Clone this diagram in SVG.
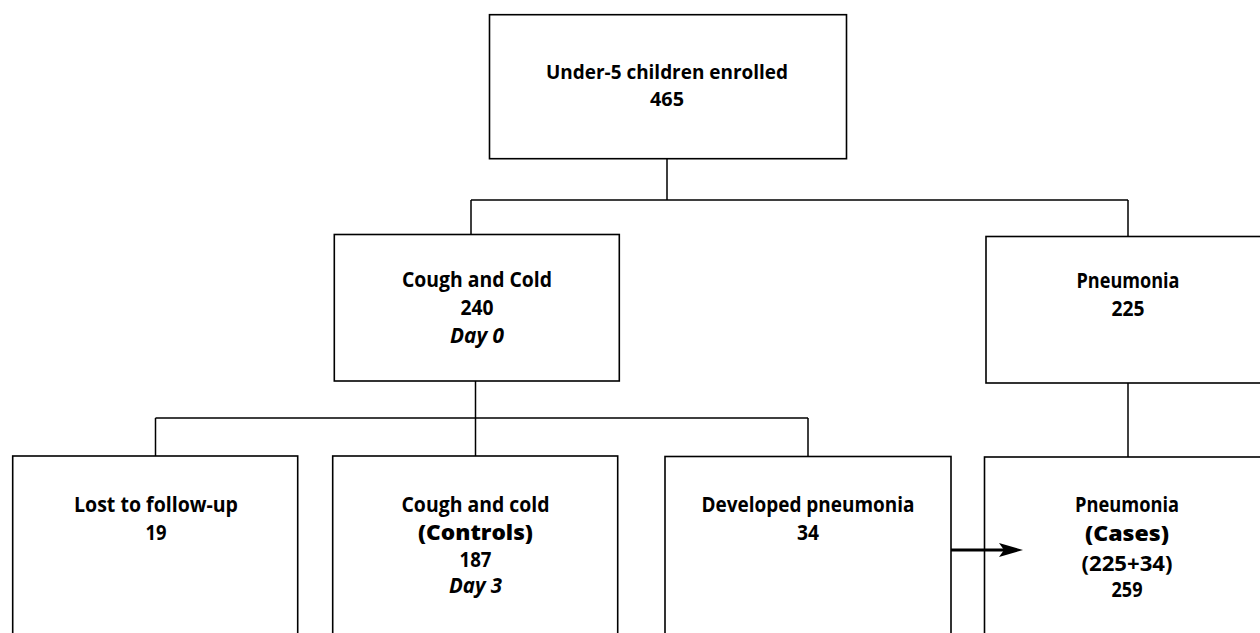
<svg xmlns="http://www.w3.org/2000/svg" width="1260" height="633" viewBox="0 0 1260 633">
<style>
.box{fill:#fff;stroke:#000;stroke-width:1.6}
.ln{fill:none;stroke:#000;stroke-width:1.5}
.arr{fill:none;stroke:#000;stroke-width:3}
.t{font-family:"Open Sans","Noto Sans","Liberation Sans",sans-serif;font-size:21px;font-weight:700;text-anchor:middle;fill:#000}
.sm{font-size:20px}
.it{font-style:italic}
.hv{font-weight:800}
</style>
<defs>
<marker id="ah" markerUnits="userSpaceOnUse" markerWidth="24" markerHeight="14" viewBox="0 0 24 14" refX="6" refY="7" orient="auto">
<path d="M0,0 L24,7 L0,14 L5,7 Z" fill="#000"/>
</marker>
</defs>
<rect width="1260" height="633" fill="#fff"/>
<g id="n-enrolled">
<rect class="box" x="489.5" y="14.7" width="357" height="144"/>
<text class="t sm" x="667" y="79" textLength="242" lengthAdjust="spacingAndGlyphs">Under-5 children enrolled</text>
<text class="t sm" x="667" y="106" textLength="34" lengthAdjust="spacingAndGlyphs">465</text>
</g>
<g id="n-coughcold">
<rect class="box" x="334.3" y="234.5" width="285" height="146.5"/>
<text class="t" x="477" y="287" textLength="150" lengthAdjust="spacingAndGlyphs">Cough and Cold</text>
<text class="t" x="477" y="315" textLength="33" lengthAdjust="spacingAndGlyphs">240</text>
<text class="t it" x="477" y="343" textLength="54" lengthAdjust="spacingAndGlyphs">Day 0</text>
</g>
<g id="n-pneumonia">
<rect class="box" x="986" y="236.5" width="290" height="146.5"/>
<text class="t" x="1128" y="288" textLength="103" lengthAdjust="spacingAndGlyphs">Pneumonia</text>
<text class="t" x="1128" y="316" textLength="33" lengthAdjust="spacingAndGlyphs">225</text>
</g>
<g id="n-lost">
<rect class="box" x="12.7" y="456" width="285" height="190"/>
<text class="t" x="156" y="512" textLength="164" lengthAdjust="spacingAndGlyphs">Lost to follow-up</text>
<text class="t" x="156" y="540" textLength="21" lengthAdjust="spacingAndGlyphs">19</text>
</g>
<g id="n-controls">
<rect class="box" x="332.7" y="456" width="285" height="190"/>
<text class="t" x="475.5" y="512" textLength="148" lengthAdjust="spacingAndGlyphs">Cough and cold</text>
<text class="t hv" x="475.5" y="540" textLength="115" lengthAdjust="spacingAndGlyphs">(Controls)</text>
<text class="t" x="475.5" y="567" textLength="32" lengthAdjust="spacingAndGlyphs">187</text>
<text class="t it" x="475.5" y="593" textLength="53" lengthAdjust="spacingAndGlyphs">Day 3</text>
</g>
<g id="n-developed">
<rect class="box" x="665" y="456.5" width="286" height="190"/>
<text class="t" x="808" y="512" textLength="213" lengthAdjust="spacingAndGlyphs">Developed pneumonia</text>
<text class="t" x="808" y="540" textLength="22" lengthAdjust="spacingAndGlyphs">34</text>
</g>
<g id="n-cases">
<rect class="box" x="984.5" y="457" width="290" height="190"/>
<text class="t" x="1127" y="512" textLength="104" lengthAdjust="spacingAndGlyphs">Pneumonia</text>
<text class="t hv" x="1127" y="541" textLength="84" lengthAdjust="spacingAndGlyphs">(Cases)</text>
<text class="t" x="1127" y="571" textLength="91" lengthAdjust="spacingAndGlyphs">(225+34)</text>
<text class="t" x="1127" y="597" textLength="31" lengthAdjust="spacingAndGlyphs">259</text>
</g>
<g id="connectors">
<path class="ln" d="M667,159 V200 M471,200 H1128 M471,200 V234.5 M1128,200 V236.5"/>
<path class="ln" d="M475.5,381 V456 M155.5,418 H808 M155.5,418 V456 M808,418 V456.5"/>
<path class="ln" d="M1128,383 V457"/>
<path class="arr" d="M951,550 H1005" marker-end="url(#ah)"/>
</g>
</svg>
